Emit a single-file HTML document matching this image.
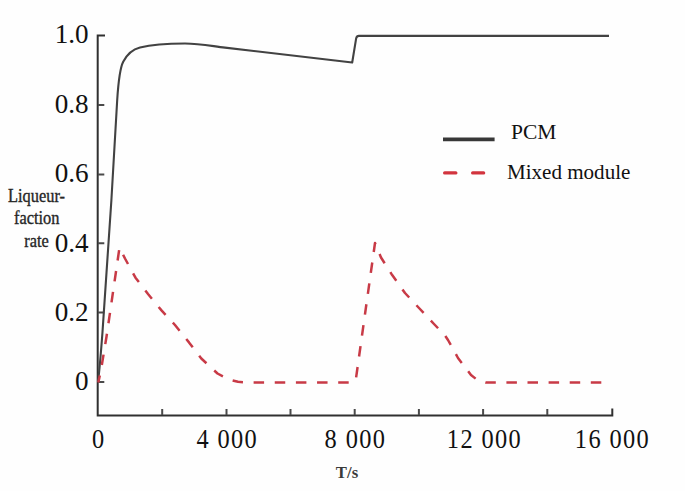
<!DOCTYPE html>
<html><head><meta charset="utf-8">
<style>
html,body{margin:0;padding:0;background:#fff;}
body{width:685px;height:491px;overflow:hidden;}
svg{display:block;}
text{font-family:"Liberation Serif",serif;}
</style></head>
<body>
<svg width="685" height="491" viewBox="0 0 685 491">
<rect x="0" y="0" width="685" height="491" fill="#fefefe"/>
<!-- axes -->
<g stroke="#303030" stroke-width="2" fill="none">
<path d="M105 35.5 H97.7 V415.6 H612.3 V408.5"/>
</g>
<g stroke="#4a4a4a" stroke-width="2" fill="none">
<path d="M98 105 H104.3 M98 174.5 H104.3 M98 243.3 H104.3 M98 312.5 H104.3 M98 382 H104.3"/>
<path d="M162.2 415 V409 M226.5 415 V409 M290.5 415 V409 M354.7 415 V409 M418.9 415 V409 M483.1 415 V409 M547.3 415 V409"/>
</g>
<!-- y labels -->
<g font-size="28" fill="#111" text-anchor="end">
<text transform="translate(88.6 43.2) scale(0.97 1)">1.0</text>
<text transform="translate(88.6 113) scale(0.97 1)">0.8</text>
<text transform="translate(88.6 182.4) scale(0.97 1)">0.6</text>
<text transform="translate(88.6 251.8) scale(0.97 1)">0.4</text>
<text transform="translate(88.6 320.9) scale(0.97 1)">0.2</text>
<text transform="translate(88.6 389.9) scale(0.97 1)">0</text>
</g>
<!-- x labels -->
<g font-size="28" fill="#111" text-anchor="middle" letter-spacing="1.6">
<text transform="translate(98.7 447.8) scale(0.87 1)">0</text>
<text transform="translate(227.3 447.8) scale(0.87 1)">4 000</text>
<text transform="translate(355.5 447.8) scale(0.87 1)">8 000</text>
<text transform="translate(484.5 447.8) scale(0.87 1)">12 000</text>
<text transform="translate(612.5 447.8) scale(0.87 1)">16 000</text>
</g>
<!-- axis titles -->
<g font-size="18.2" fill="#262626" stroke="#262626" stroke-width="0.35" text-anchor="middle">
<text transform="translate(36.5 201.7) scale(0.9 1)">Liqueur-</text>
<text transform="translate(36.7 224) scale(0.9 1)">faction</text>
<text transform="translate(36.5 247.3) scale(0.9 1)">rate</text>
</g>
<text transform="translate(347 477.8) scale(0.95 1)" font-size="17.6" font-weight="bold" fill="#3a3a3a" text-anchor="middle">T/s</text>
<!-- PCM curve -->
<path d="M98 382 C99.5 370 101 352 102.5 332 L111.4 200 L117.2 100 C118.5 80 120 68 123.2 61.8 C126.1 56.2 132 49.5 140 47.5 C152 44.5 170 43.5 185 43.5 C200 43.5 212 46.1 225 47.6 L352.2 62.5 L356.2 38.2 Q356.8 35.9 358.8 35.9 H609" stroke="#424242" stroke-width="2.1" fill="none" stroke-linejoin="round"/>
<!-- Mixed module -->
<g stroke="#c83a46" stroke-width="2.5" fill="none" stroke-dasharray="10.5 10.6" stroke-linejoin="round">
<path id="rA" stroke-dasharray="10.5 10.65" stroke-dashoffset="3.31" d="M98.3 382.5 L101 370 L106.5 336.7 L119.5 247.5 L125 258.5 L135.5 277.7 L148 294 L161.5 310.4 L175 325 L189 342.4 L201.3 358.5 L217.5 373.5 L229 379.5 L238 381.8 L250 382.6 L354.7 382.6"/>
<path id="rB" stroke-dasharray="10.5 10.6" stroke-dashoffset="15.83" d="M355.4 382.6 L375 243 L381 257.5 L392 274.8 L405 293 L419 308 L434 324 L445 335.5 L448 340 L458 358 L471 375 L478 380.5 L486 382.6 L602 382.6"/>
</g>
<!-- legend -->
<path d="M443 139.3 H494.6" stroke="#383838" stroke-width="3.8"/>
<path d="M444.7 172.9 H455.8 M472.7 172.9 H483.6" stroke="#d2343e" stroke-width="3.4" stroke-linecap="round"/>
<g font-size="21.5" fill="#111">
<text x="511" y="138.7">PCM</text>
<text transform="translate(507 179.4) scale(0.98 1)">Mixed module</text>
</g>
</svg>
</body></html>
